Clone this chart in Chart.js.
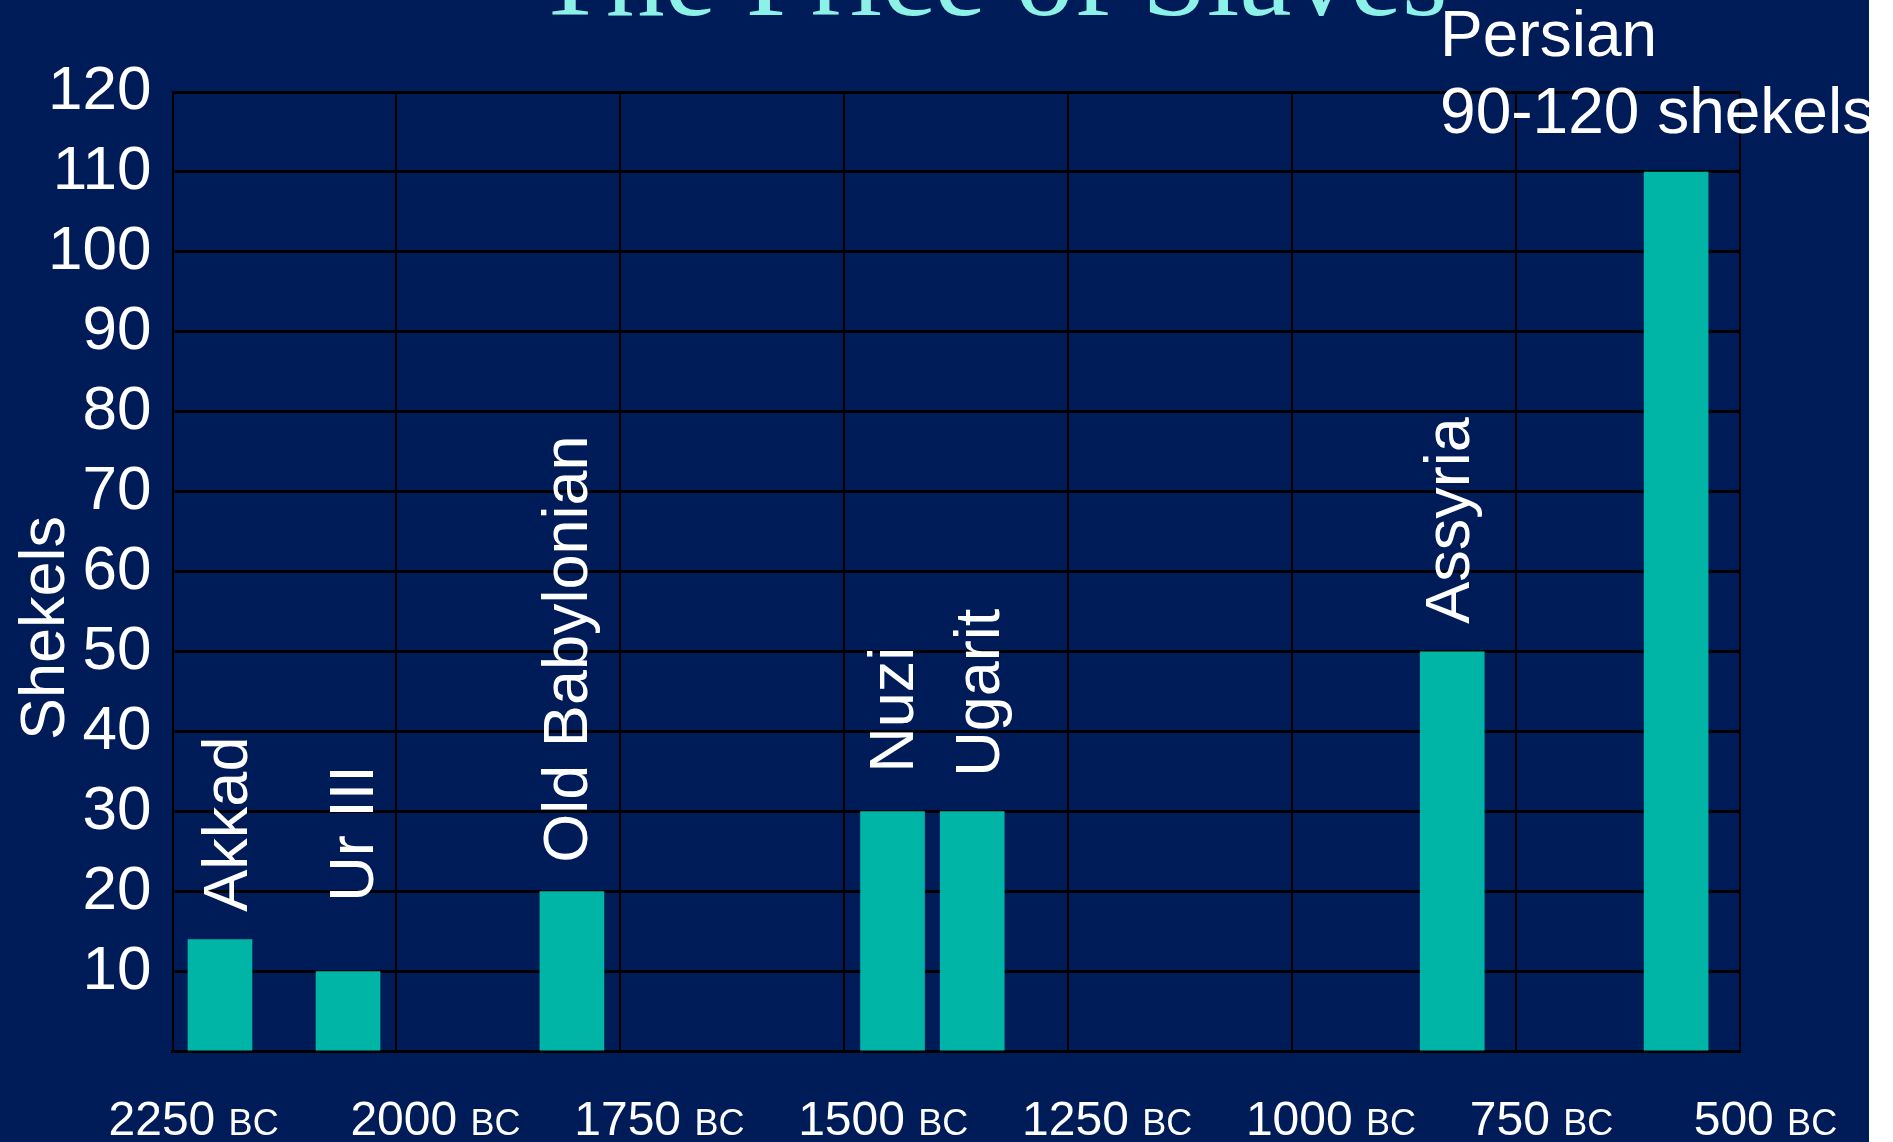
<!DOCTYPE html>
<html>
<head>
<meta charset="utf-8">
<script src="https://cdn.jsdelivr.net/npm/chart.js@4/dist/chart.umd.min.js"></script>
<style>
  html, body { margin: 0; padding: 0; background: #ffffff; }
  #wrap { width: 1869px; height: 1142px; background: #001C58; }
  canvas { display: block; }
</style>
</head>
<body>
<div id="wrap"><canvas id="c" width="1869" height="1142"></canvas></div>
<script>
// ---- data ----
const titleText = 'The Price of Slaves';
const yAxisTitle = 'Shekels';
const periods = ['Akkad', 'Ur III', 'Old Babylonian', 'Nuzi', 'Ugarit', 'Assyria', 'Persian'];
const periodYearsBC = [2197, 2054, 1804, 1446, 1357, 821, 571];
const shekels = [14, 10, 20, 30, 30, 50, 110];
const persianNote = '90-120 shekels';
const xTickYearsBC = [2250, 2000, 1750, 1500, 1250, 1000, 750, 500];
const xTickLabels = ['2250', '2000', '1750', '1500', '1250', '1000', '750', '500'];
const xTickSuffix = 'BC';
const yTickValues = [0, 10, 20, 30, 40, 50, 60, 70, 80, 90, 100, 110, 120];
const yTickLabels = ['', '10', '20', '30', '40', '50', '60', '70', '80', '90', '100', '110', '120'];

const SANS = '"Liberation Sans", Arial, sans-serif';
const SERIF = '"Liberation Serif", "Times New Roman", serif';

const textPlugin = {
  id: 'slideText',
  afterDatasetsDraw(chart, args, opts) {
    const ctx = chart.ctx;
    const xs = chart.scales.x;
    ctx.save();
    // Title
    ctx.font = '117px ' + SERIF;
    ctx.fillStyle = '#8CF2E8';
    ctx.textAlign = 'center';
    ctx.textBaseline = 'alphabetic';
    ctx.fillText(titleText, 991, 15);

    // Y axis title
    ctx.save();
    ctx.translate(64, 628);
    ctx.rotate(-Math.PI / 2);
    ctx.font = '63px ' + SANS;
    ctx.fillStyle = '#ffffff';
    ctx.textAlign = 'center';
    ctx.textBaseline = 'alphabetic';
    ctx.fillText(yAxisTitle, 0, 0);
    ctx.restore();

    // X tick labels (number + small "BC")
    ctx.fillStyle = '#ffffff';
    ctx.textAlign = 'left';
    ctx.textBaseline = 'alphabetic';
    xs.ticks.forEach((t, i) => {
      const px = xs.getPixelForValue(t.value);
      const left = px - 46 + opts.xLabelShift[i];
      ctx.font = '48px ' + SANS;
      const numStr = xTickLabels[i] + ' ';
      ctx.fillText(numStr, left, 1135);
      const w = ctx.measureText(numStr).width;
      ctx.font = '36px ' + SANS;
      ctx.fillText(xTickSuffix, left + w, 1135);
    });

    // Bar labels
    const meta = chart.getDatasetMeta(0);
    meta.data.forEach((bar, i) => {
      ctx.fillStyle = '#ffffff';
      ctx.font = '63px ' + SANS;
      if (i === periods.length - 1) {
        ctx.font = '64px ' + SANS;
        ctx.textAlign = 'left';
        ctx.textBaseline = 'alphabetic';
        ctx.fillText(periods[i], bar.x - 236, bar.y - 116);
        ctx.fillText(persianNote, bar.x - 236, bar.y - 39);
      } else {
        ctx.save();
        ctx.translate(bar.x + 2 + opts.labelShiftX[i], bar.y - opts.labelGaps[i]);
        ctx.rotate(-Math.PI / 2);
        ctx.textAlign = 'left';
        ctx.textBaseline = 'middle';
        ctx.fillText(periods[i], 0, 0);
        ctx.restore();
      }
    });
    ctx.restore();
  }
};

new Chart(document.getElementById('c'), {
  type: 'bar',
  data: {
    datasets: [{
      label: yAxisTitle,
      data: periodYearsBC.map((yr, i) => ({ x: -yr, y: shekels[i] })),
      backgroundColor: '#00B5A5',
      borderWidth: 0,
      barThickness: 64
    }]
  },
  options: {
    responsive: false,
    animation: false,
    devicePixelRatio: 1,
    layout: { padding: { top: 92, right: 129.3, bottom: 0, left: 0 } },
    plugins: {
      legend: { display: false },
      tooltip: { enabled: false },
      title: { display: false },
      slideText: {
        labelGaps: [28, 70, 29, 39, 35, 28, 0],
        labelShiftX: [8, 6, -4, 1, 7, -3, 0],
        xLabelShift: [-18, 0, 0, 0, 0, 0, 0, 0]
      }
    },
    scales: {
      x: {
        type: 'linear',
        min: -xTickYearsBC[0],
        max: -xTickYearsBC[xTickYearsBC.length - 1],
        offset: false,
        afterBuildTicks: (s) => { s.ticks = xTickYearsBC.map(v => ({ value: -v })); },
        afterFit: (s) => { s.height = 90.4; },
        ticks: { display: false },
        grid: { color: '#000000', lineWidth: 2, drawTicks: false, offset: false },
        border: { display: true, color: '#000000', width: 3 }
      },
      y: {
        min: 0,
        max: 120,
        afterBuildTicks: (s) => { s.ticks = yTickValues.map(v => ({ value: v })); },
        afterFit: (s) => { s.width = 172.5; },
        ticks: {
          color: '#ffffff',
          font: { family: SANS, size: 62 },
          padding: 21,
          callback: (v) => yTickLabels[yTickValues.indexOf(v)]
        },
        grid: { color: '#000000', lineWidth: 3, drawTicks: false },
        border: { display: true, color: '#000000', width: 2 }
      }
    }
  },
  plugins: [textPlugin]
});
</script>
</body>
</html>
